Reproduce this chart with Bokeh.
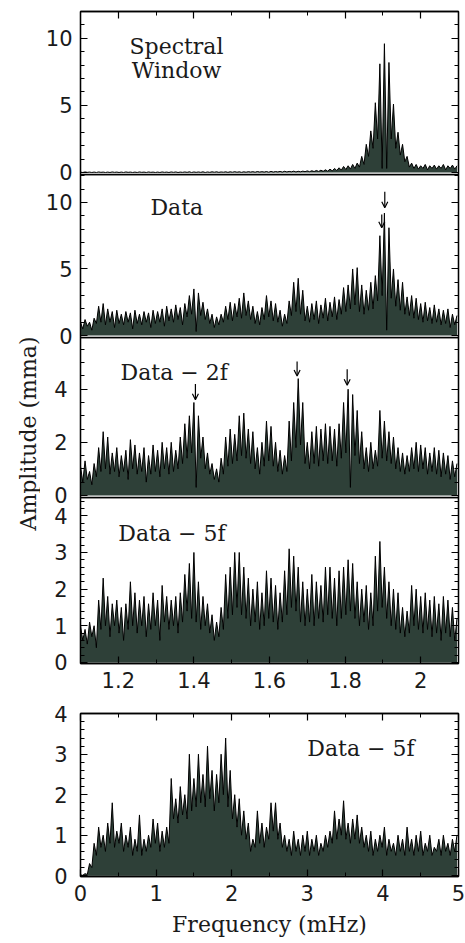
import numpy as np
from bokeh.plotting import figure
from bokeh.models import (Range1d, LinearAxis, SingleIntervalTicker, NumeralTickFormatter,
                          BasicTickFormatter, Label, Arrow, OpenHead, ColumnDataSource)
from bokeh.layouts import column, row
from bokeh.embed import file_html
from bokeh.resources import INLINE

# ---------------- data ----------------
# Panels 1-4: 1.1-2.1 mHz; alias spikes every 0.012 mHz, troughs halfway between
ZOOM_START = 1.1
ZOOM_SPIKE = 0.012
# Panel 5: 0-5 mHz; spikes every 0.06 mHz
FULL_START = 0.0
FULL_SPIKE = 0.06

window_peaks = [0.03, 0.04, 0.03, 0.03, 0.04, 0.03, 0.03, 0.04, 0.03, 0.03,
                0.04, 0.03, 0.03, 0.04, 0.03, 0.04, 0.03, 0.03, 0.04, 0.03,
                0.04, 0.04, 0.03, 0.04, 0.05, 0.04, 0.04, 0.05, 0.04, 0.05,
                0.05, 0.04, 0.05, 0.05, 0.06, 0.05, 0.05, 0.06, 0.06, 0.07,
                0.06, 0.07, 0.08, 0.07, 0.08, 0.09, 0.08, 0.10, 0.09, 0.10,
                0.12, 0.13, 0.15, 0.17, 0.20, 0.25, 0.30, 0.35, 0.45, 0.50,
                0.60, 0.70, 1.20, 2.10, 3.10, 5.20, 8.10, 9.60, 8.20, 5.10,
                3.00, 2.10, 1.20, 0.70, 0.60, 0.50, 0.60, 0.50, 0.55, 0.50,
                0.60, 0.50, 0.55, 0.50]
window_troughs = [0.0, 0.01, 0.0, 0.0, 0.01, 0.0, 0.0, 0.01, 0.0, 0.0,
                  0.01, 0.0, 0.0, 0.01, 0.0, 0.01, 0.0, 0.0, 0.01, 0.0,
                  0.01, 0.0, 0.01, 0.01, 0.0, 0.01, 0.01, 0.0, 0.01, 0.02,
                  0.01, 0.02, 0.01, 0.02, 0.02, 0.01, 0.02, 0.03, 0.02, 0.03,
                  0.03, 0.02, 0.03, 0.04, 0.03, 0.04, 0.05, 0.04, 0.05, 0.06,
                  0.06, 0.07, 0.08, 0.09, 0.10, 0.12, 0.15, 0.18, 0.22, 0.25,
                  0.30, 0.40, 0.60, 1.20, 1.80, 2.50, 0.30, 0.30, 2.50, 1.80,
                  1.30, 0.80, 0.40, 0.30, 0.25, 0.30, 0.20, 0.30, 0.25, 0.30,
                  0.20, 0.30, 0.25]

data_peaks = [1.0, 1.2, 1.0, 1.3, 2.2, 2.4, 2.0, 1.8, 1.9, 1.6,
              1.8, 1.7, 1.9, 1.6, 1.8, 1.7, 1.9, 1.8, 2.0, 2.2,
              2.0, 2.3, 2.1, 2.4, 3.0, 3.5, 3.2, 2.5, 2.0, 1.6,
              1.4, 1.6, 2.2, 2.5, 2.4, 2.8, 3.2, 2.6, 2.2, 1.8,
              2.1, 3.0, 2.6, 2.4, 1.9, 1.6, 2.6, 4.0, 4.3, 3.4,
              2.2, 2.4, 2.6, 2.3, 2.8, 2.5, 2.9, 2.7, 3.6, 3.8,
              5.0, 5.1, 3.8, 3.4, 4.0, 4.5, 7.5, 9.2, 8.1, 5.0,
              4.2, 4.0, 2.9, 3.0, 2.8, 2.4, 2.5, 2.1, 2.3, 2.0,
              1.9, 2.0, 1.6, 1.5]
data_troughs = [0.5, 0.7, 0.4, 0.9, 1.0, 0.8, 1.0, 0.6, 0.9, 0.8,
                1.0, 0.5, 0.9, 0.8, 1.0, 0.6, 0.9, 1.0, 0.7, 1.1,
                1.0, 1.2, 0.8, 1.4, 1.6, 0.3, 1.5, 1.2, 0.9, 0.6,
                0.8, 1.0, 1.2, 1.1, 1.4, 1.3, 1.5, 1.2, 0.9, 0.8,
                1.2, 1.4, 1.1, 1.0, 0.7, 0.9, 1.5, 1.8, 1.6, 1.1,
                1.0, 1.2, 0.9, 1.3, 1.1, 1.4, 1.2, 1.6, 1.8, 2.0,
                2.3, 1.8, 1.6, 1.9, 2.0, 2.6, 3.0, 0.4, 2.8, 2.2,
                1.9, 1.6, 1.5, 1.3, 1.2, 1.0, 1.1, 0.9, 1.0, 0.8,
                0.9, 0.6, 0.8]

sub2f_peaks = [1.1, 1.3, 0.9, 1.2, 1.8, 2.4, 2.2, 1.6, 1.8, 1.5,
               1.7, 2.1, 1.9, 1.6, 1.8, 1.5, 1.9, 1.7, 2.0, 1.8,
               2.0, 1.7, 2.2, 2.7, 3.0, 3.5, 3.0, 2.2, 1.6, 1.2,
               1.0, 1.4, 2.2, 2.5, 2.3, 3.0, 3.1, 2.5, 2.4, 1.8,
               2.0, 2.8, 2.6, 2.0, 1.7, 1.5, 2.8, 3.5, 4.4, 3.5,
               2.0, 2.4, 2.6, 2.5, 2.7, 2.6, 2.5, 2.7, 3.5, 4.0,
               3.8, 3.2, 2.4, 1.8, 2.0, 1.7, 3.2, 2.8, 2.4, 2.2,
               1.8, 1.6, 1.5, 1.8, 2.0, 1.9, 1.8, 1.6, 1.8, 1.7,
               1.6, 1.5, 1.3, 1.2]
sub2f_troughs = [0.5, 0.6, 0.4, 0.7, 0.9, 1.0, 0.8, 0.9, 0.7, 0.9,
                 0.6, 1.0, 0.8, 0.9, 0.5, 0.8, 0.9, 0.7, 1.0, 0.8,
                 0.9, 1.0, 1.2, 1.4, 1.6, 0.3, 1.4, 1.0, 0.8, 0.6,
                 0.5, 0.8, 1.1, 1.2, 1.3, 1.5, 1.4, 1.2, 1.0, 0.8,
                 1.1, 1.3, 1.1, 0.9, 0.8, 0.9, 1.3, 1.8, 1.9, 1.2,
                 1.0, 1.2, 1.1, 1.3, 1.2, 1.3, 1.1, 1.4, 1.6, 0.3,
                 1.5, 1.2, 1.0, 0.9, 1.0, 1.1, 1.4, 1.3, 1.2, 1.0,
                 0.9, 0.8, 0.9, 1.0, 0.9, 1.0, 0.8, 0.9, 0.8, 0.7,
                 0.8, 0.6, 0.7]

sub5f_peaks = [1.0, 0.9, 1.1, 1.0, 1.7, 2.3, 1.8, 1.6, 1.7, 1.5,
               1.6, 2.2, 1.9, 1.7, 1.8, 1.6, 1.9, 1.7, 2.1, 1.8,
               1.7, 1.8, 1.9, 2.4, 2.7, 3.0, 2.2, 1.8, 1.6, 1.3,
               1.1, 1.5, 2.4, 2.6, 3.0, 3.0, 2.6, 2.3, 2.0, 2.2,
               1.9, 2.5, 2.3, 2.1, 1.9, 2.5, 3.1, 2.9, 2.6, 2.2,
               2.0, 2.4, 2.2, 2.1, 2.6, 2.6, 2.3, 2.5, 2.6, 2.8,
               2.7, 2.2, 2.0, 2.1, 1.9, 2.9, 3.3, 2.6, 2.2, 2.0,
               1.9, 1.5, 1.4, 2.1, 2.0, 1.8, 1.9, 1.7, 1.8, 1.6,
               1.8, 1.7, 1.5, 1.2]
sub5f_troughs = [0.6, 0.5, 0.7, 0.4, 0.9, 1.0, 0.7, 1.0, 0.8, 0.6,
                 0.9, 1.0, 0.8, 1.0, 0.7, 0.9, 1.0, 0.6, 1.1, 0.9,
                 1.0, 0.8, 1.1, 1.4, 1.2, 1.1, 0.9, 1.0, 0.8, 0.6,
                 0.7, 0.9, 1.2, 1.3, 1.5, 1.3, 1.2, 1.0, 1.1, 0.9,
                 1.0, 1.2, 1.1, 0.9, 1.1, 1.3, 1.5, 1.4, 1.1, 1.0,
                 1.1, 1.0, 1.2, 1.1, 1.3, 1.2, 1.0, 1.2, 1.3, 1.4,
                 1.2, 1.0, 1.1, 0.9, 1.0, 1.4, 1.5, 1.2, 1.0, 0.9,
                 0.8, 0.7, 0.8, 1.0, 0.9, 0.8, 0.9, 0.7, 0.8, 0.6,
                 0.8, 0.7, 0.6]

full_peaks = [0.02, 0.05, 0.3, 0.8, 1.2, 1.0, 1.3, 1.8, 1.1, 1.3,
              1.0, 1.2, 0.9, 1.5, 0.9, 1.0, 1.4, 1.3, 1.1, 1.2,
              2.4, 1.9, 2.2, 2.0, 3.0, 2.4, 3.0, 2.5, 3.2, 2.6,
              2.5, 3.0, 3.4, 2.6, 2.0, 1.9, 1.6, 1.3, 0.9, 1.6,
              1.3, 1.2, 1.8, 1.8, 1.3, 1.0, 0.9, 1.1, 0.9, 1.0,
              1.1, 0.9, 1.0, 0.8, 1.0, 1.1, 1.6, 1.4, 1.85, 1.3,
              1.4, 1.5, 1.2, 1.0, 1.1, 0.9, 1.0, 1.2, 0.9, 0.8,
              1.0, 0.9, 1.2, 0.9, 1.0, 1.1, 0.8, 1.0, 0.7, 0.9,
              1.0, 0.8, 0.9, 1.0]
full_troughs = [0.01, 0.03, 0.2, 0.5, 0.7, 0.6, 0.8, 0.7, 0.8, 0.6,
                0.7, 0.5, 0.6, 0.5, 0.6, 0.7, 0.8, 0.6, 0.7, 0.8,
                1.4, 1.3, 1.5, 1.4, 1.6, 1.7, 1.8, 1.7, 1.9, 1.6,
                1.8, 2.0, 1.7, 1.4, 1.2, 1.0, 0.9, 0.6, 0.7, 0.8,
                0.7, 0.9, 1.1, 0.9, 0.7, 0.6, 0.5, 0.6, 0.5, 0.6,
                0.5, 0.6, 0.5, 0.6, 0.7, 0.8, 0.9, 1.0, 0.9, 0.8,
                0.9, 0.8, 0.7, 0.6, 0.5, 0.6, 0.7, 0.5, 0.6, 0.5,
                0.6, 0.5, 0.6, 0.5, 0.6, 0.5, 0.6, 0.5, 0.6, 0.5,
                0.6, 0.5, 0.6]

# arrows marking identified peaks (frequency, arrow top, arrow tip)
data_arrow_freq = [1.905, 1.897]
data_arrow_top = [10.8, 9.1]
data_arrow_tip = [9.6, 8.1]
sub2f_arrow_freq = [1.404, 1.673, 1.8055]
sub2f_arrow_top = [4.2, 5.05, 4.75]
sub2f_arrow_tip = [3.6, 4.5, 4.15]

panel_titles = ["Spectral", "Window", "Data", "Data \u2212 2f", "Data \u2212 5f", "Data \u2212 5f"]
x_title = "Frequency (mHz)"
y_title = "Amplitude (mma)"

# ---------------- styling ----------------
DARK = "#2e4038"
SERIF = "DejaVu Serif"
SANS = "DejaVu Sans"
FRAME_W = 378
OVERLAP = 14   # room below panels 1-3 for their "0" label; next panel overlaps it


def spectrum(start, spacing, peaks, troughs):
    amp = np.empty(len(peaks) + len(troughs))
    amp[0::2] = peaks
    amp[1::2] = troughs
    freq = start + 0.5 * spacing * np.arange(amp.size)
    return ColumnDataSource(dict(freq=freq, amp=amp, zero=np.zeros(amp.size)))


def style_axis(ax, labels, standoff=10):
    ax.axis_line_color = "black"
    ax.axis_line_width = 1.3
    ax.major_tick_in = 7
    ax.major_tick_out = 0
    ax.minor_tick_in = 4
    ax.minor_tick_out = 0
    ax.major_tick_line_color = "black"
    ax.minor_tick_line_color = "black"
    ax.major_tick_line_width = 1.2
    ax.minor_tick_line_width = 1.0
    if labels:
        ax.major_label_text_font = SANS
        ax.major_label_text_font_size = "21px"
        ax.major_label_text_color = "#1a1a1a"
        ax.major_label_standoff = standoff
    else:
        ax.major_label_text_font_size = "0px"
        ax.major_label_standoff = 0
        ax.major_label_text_color = None


def make_panel(src, x_range, y_range, frame_h, top, bottom, y_int, y_minor,
               x_int, x_minor, top_axis, bottom_axis, y_standoff, x_fmt, margin):
    p = figure(frame_width=FRAME_W, frame_height=frame_h, x_range=x_range, y_range=y_range,
               x_axis_location=None, y_axis_location=None, toolbar_location=None,
               output_backend="svg", min_border_left=40, min_border_right=7,
               min_border_top=top, min_border_bottom=bottom, margin=margin)
    p.xgrid.visible = False
    p.ygrid.visible = False
    p.outline_line_color = "black"
    p.outline_line_width = 1.3
    p.background_fill_color = None
    p.border_fill_color = None

    p.varea(x="freq", y1="zero", y2="amp", source=src, fill_color=DARK)
    p.line(x="freq", y="amp", source=src, line_color="black", line_width=1.0)

    left = LinearAxis(ticker=SingleIntervalTicker(interval=y_int, num_minor_ticks=y_minor))
    style_axis(left, True, y_standoff)
    p.add_layout(left, "left")
    right = LinearAxis(ticker=SingleIntervalTicker(interval=y_int, num_minor_ticks=y_minor))
    style_axis(right, False)
    p.add_layout(right, "right")
    if top_axis:
        ax = LinearAxis(ticker=SingleIntervalTicker(interval=x_int, num_minor_ticks=x_minor))
        style_axis(ax, False)
        p.add_layout(ax, "above")
    bax = None
    if bottom_axis:
        bax = LinearAxis(ticker=SingleIntervalTicker(interval=x_int, num_minor_ticks=x_minor),
                         formatter=x_fmt)
        style_axis(bax, True, 8)
        p.add_layout(bax, "below")
    return p, bax


def text(p, x, y, s, align="left"):
    p.add_layout(Label(x=x, y=y, text=s, text_font=SERIF, text_font_size="22px",
                       text_color="#1a1a1a", text_align=align, text_baseline="middle"))


def arrows(p, freqs, tops, tips):
    for f, t0, t1 in zip(freqs, tops, tips):
        p.add_layout(Arrow(end=OpenHead(size=6, line_width=1.2, line_color="black"),
                           x_start=f, y_start=t0, x_end=f, y_end=t1,
                           line_width=1.2, line_color="black"))


zoom_x = Range1d(1.1, 2.1)
zoom_fmt = NumeralTickFormatter(format="0.[0]")

p1, _ = make_panel(spectrum(ZOOM_START, ZOOM_SPIKE, window_peaks, window_troughs),
                   zoom_x, Range1d(-0.15, 12.0), 163, 11, OVERLAP, 5, 5, 0.2, 2, True, False, 8,
                   None, (0, 0, 0, 0))
text(p1, 1.354, 9.4, panel_titles[0], "center")
text(p1, 1.354, 7.6, panel_titles[1], "center")

p2, _ = make_panel(spectrum(ZOOM_START, ZOOM_SPIKE, data_peaks, data_troughs),
                   zoom_x, Range1d(-0.15, 12.1), 163, 0, OVERLAP, 5, 5, 0.2, 2, False, False, 8,
                   None, (-OVERLAP, 0, 0, 0))
text(p2, 1.285, 9.6, panel_titles[2])
arrows(p2, data_arrow_freq, data_arrow_top, data_arrow_tip)

p3, _ = make_panel(spectrum(ZOOM_START, ZOOM_SPIKE, sub2f_peaks, sub2f_troughs),
                   zoom_x, Range1d(-0.08, 5.95), 160, 0, OVERLAP, 2, 4, 0.2, 2, False, False, 13,
                   None, (-OVERLAP, 0, 0, 0))
text(p3, 1.206, 4.64, panel_titles[3])
arrows(p3, sub2f_arrow_freq, sub2f_arrow_top, sub2f_arrow_tip)

p4, _ = make_panel(spectrum(ZOOM_START, ZOOM_SPIKE, sub5f_peaks, sub5f_troughs),
                   zoom_x, Range1d(-0.03, 4.5), 166, 0, 32, 1, 5, 0.2, 2, False, True, 13,
                   zoom_fmt, (-OVERLAP, 0, 0, 0))
text(p4, 1.2, 3.51, panel_titles[4])

p5, p5_bottom = make_panel(spectrum(FULL_START, FULL_SPIKE, full_peaks, full_troughs),
                           Range1d(0, 5), Range1d(-0.02, 4.005), 163, 18, 67, 1, 5, 1, 2,
                           True, True, 13, BasicTickFormatter(), (0, 0, 0, 0))
text(p5, 3.0, 3.13, panel_titles[5])
p5_bottom.axis_label = x_title
p5_bottom.axis_label_text_font = SERIF
p5_bottom.axis_label_text_font_size = "22px"
p5_bottom.axis_label_text_font_style = "normal"
p5_bottom.axis_label_text_color = "#1a1a1a"
p5_bottom.axis_label_standoff = 8

# narrow strip holding the shared y-axis title
side = figure(width=40, height=943, x_range=Range1d(0, 40), y_range=Range1d(0, 943),
              x_axis_location=None, y_axis_location=None, toolbar_location=None,
              output_backend="svg", min_border=0, outline_line_color=None)
side.xgrid.visible = False
side.ygrid.visible = False
side.add_layout(Label(x=28, y=510, text=y_title, angle=np.pi / 2, text_font=SERIF,
                      text_font_size="22px", text_color="#1a1a1a",
                      text_align="center", text_baseline="middle"))

layout = row(side, column(p1, p2, p3, p4, p5, spacing=0), spacing=0)
open("out.html", "w").write(file_html(layout, INLINE))
